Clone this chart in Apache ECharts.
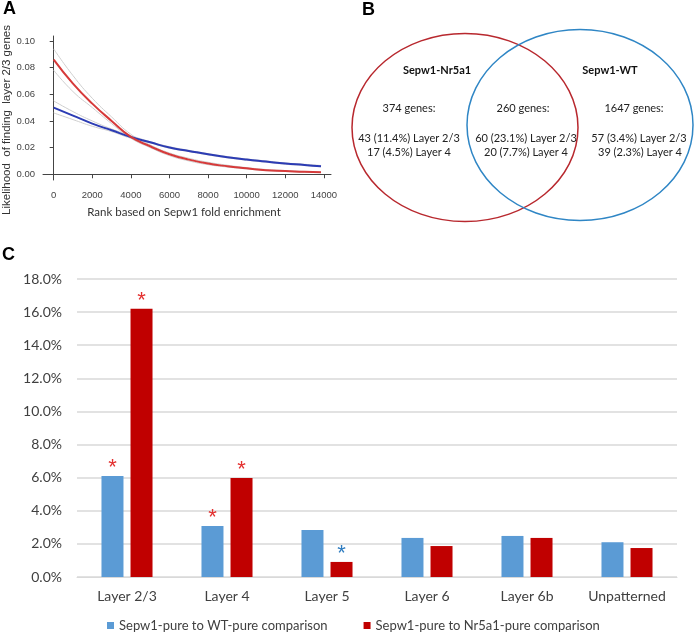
<!DOCTYPE html>
<html>
<head>
<meta charset="utf-8">
<script src="https://cdn.jsdelivr.net/npm/echarts@6/dist/echarts.min.js"></script>
<style>
  html, body { margin: 0; padding: 0; background: #fff; }
  #main { width: 700px; height: 636px; }
</style>
</head>
<body>
<div id="main"></div>
<script>
// Panel A: likelihood curves (rank, value)
const rankTicks = [0, 2000, 4000, 6000, 8000, 10000, 12000, 14000];
const probTicks = [0, 0.02, 0.04, 0.06, 0.08, 0.10];
const rankPts = [0, 1000, 2000, 3000, 4000, 5000, 6000, 7000, 8000, 9000, 10000, 11000, 12000, 13000, 13850];
const redFit = [0.086, 0.068, 0.053, 0.040, 0.028, 0.021, 0.015, 0.011, 0.008, 0.006, 0.0045, 0.003, 0.0025, 0.0018, 0.0015];
const redUpper = [0.094, 0.074, 0.057, 0.043, 0.030, 0.022, 0.016, 0.012, 0.009, 0.0068, 0.005, 0.0036, 0.0028, 0.0021, 0.0017];
const redLower = [0.078, 0.062, 0.050, 0.038, 0.027, 0.020, 0.014, 0.010, 0.0072, 0.0054, 0.004, 0.0028, 0.0022, 0.0015, 0.0013];
const blueFit = [0.050, 0.044, 0.038, 0.033, 0.028, 0.024, 0.020, 0.0175, 0.015, 0.0128, 0.011, 0.0095, 0.008, 0.007, 0.006];
const blueUpper = [0.055, 0.047, 0.040, 0.034, 0.029, 0.0245, 0.0207, 0.018, 0.0155, 0.0133, 0.0115, 0.010, 0.0085, 0.0075, 0.0066];
const blueLower = [0.046, 0.041, 0.036, 0.032, 0.027, 0.0235, 0.0195, 0.017, 0.0145, 0.0123, 0.0105, 0.009, 0.0075, 0.0065, 0.0056];

// Panel B: Venn counts (Nr5a1 only, shared, WT only)
const vennSets = ['Sepw1-Nr5a1', 'Sepw1-WT'];
const vennGenes = [374, 260, 1647];
const vennL23 = [43, 60, 57];
const vennL23Pct = ['11.4', '23.1', '3.4'];
const vennL4 = [17, 20, 39];
const vennL4Pct = ['4.5', '7.7', '2.3'];

// Panel C: bars (percent)
const layers = ['Layer 2/3', 'Layer 4', 'Layer 5', 'Layer 6', 'Layer 6b', 'Unpatterned'];
const wtName = 'Sepw1-pure to WT-pure comparison';
const nrName = 'Sepw1-pure to Nr5a1-pure comparison';
const wtPct = [6.1, 3.08, 2.84, 2.36, 2.48, 2.1];
const nrPct = [16.2, 5.98, 0.91, 1.87, 2.36, 1.75];
const wtStar = ['red', 'red', '', '', '', ''];
const nrStar = ['red', 'red', 'blue', '', '', ''];

const starColor = { red: '#e3302f', blue: '#2e7cc0' };
const calib = 'Lato, "Open Sans", sans-serif';
const arial = '"Liberation Sans", Arial, sans-serif';

const zip = (xs, ys) => xs.map((x, i) => [x, ys[i]]);
const withStars = (vals, stars) => vals.map((v, i) => stars[i] ? {
    value: v,
    label: { show: true, color: starColor[stars[i]] }
} : v);

const chart = echarts.init(document.getElementById('main'));

const bandLine = (name, data) => ({
    name, type: 'line', xAxisIndex: 0, yAxisIndex: 0, smooth: true,
    showSymbol: false, data, silent: true,
    lineStyle: { color: '#cfcfcf', width: 1 }, z: 1
});

const starLabel = {
    show: false, position: 'top', formatter: '*',
    fontSize: 22, fontFamily: arial, distance: -3
};

// venn text rows: [x centres], y, text builder
const vennRows = [
    { xs: [409, 523, 634], y: 108, text: i => vennGenes[i] + ' genes:' },
    { xs: [409, 526, 639], y: 138, text: i => vennL23[i] + ' (' + vennL23Pct[i] + '%) Layer 2/3' },
    { xs: [409, 526, 640], y: 152, text: i => vennL4[i] + ' (' + vennL4Pct[i] + '%) Layer 4' }
];

const option = {
    animation: false,
    grid: [
        { left: 43, top: 36, width: 288, height: 144 },
        { left: 77, top: 279, width: 600, height: 298 }
    ],
    xAxis: [
        {
            gridIndex: 0, type: 'value', min: -554, max: 14368,
            splitLine: { show: false },
            axisLine: { lineStyle: { color: '#444', width: 1 } },
            axisTick: { customValues: rankTicks, length: 4, lineStyle: { color: '#444' } },
            axisLabel: {
                customValues: rankTicks, color: '#444', fontSize: 9.5, fontFamily: arial, margin: 10,
                formatter: v => String(v)
            }
        },
        {
            gridIndex: 1, type: 'category', data: layers,
            axisLine: { lineStyle: { color: '#d9d9d9' } },
            axisTick: { show: false },
            axisLabel: { color: '#404040', fontSize: 14, fontFamily: calib, margin: 12, interval: 0 }
        }
    ],
    yAxis: [
        {
            gridIndex: 0, type: 'value', min: -0.0043, max: 0.1037,
            splitLine: { show: false },
            axisLine: { show: true, lineStyle: { color: '#444', width: 1 } },
            axisTick: { show: true, customValues: probTicks, length: 4, lineStyle: { color: '#444' } },
            axisLabel: {
                customValues: probTicks, color: '#444', fontSize: 9.5, fontFamily: arial, margin: 8,
                formatter: v => v.toFixed(2)
            }
        },
        {
            gridIndex: 1, type: 'value', min: 0, max: 18, interval: 2,
            splitLine: { lineStyle: { color: '#d9d9d9', width: 1.5 } },
            axisLine: { show: false },
            axisTick: { show: false },
            axisLabel: {
                color: '#404040', fontSize: 14, fontFamily: calib, margin: 15,
                formatter: v => v.toFixed(1) + '%'
            }
        }
    ],
    legend: {
        data: [wtName, nrName],
        left: 102, top: 614,
        icon: 'rect', itemWidth: 7, itemHeight: 7, itemGap: 36,
        textStyle: { color: '#404040', fontSize: 13, fontFamily: calib }
    },
    series: [
        bandLine('red upper', zip(rankPts, redUpper)),
        bandLine('red lower', zip(rankPts, redLower)),
        bandLine('blue upper', zip(rankPts, blueUpper)),
        bandLine('blue lower', zip(rankPts, blueLower)),
        {
            name: 'Nr5a1 fit', type: 'line', xAxisIndex: 0, yAxisIndex: 0, smooth: true,
            showSymbol: false, data: zip(rankPts, redFit),
            lineStyle: { color: '#d63a3a', width: 2 }, z: 3
        },
        {
            name: 'WT fit', type: 'line', xAxisIndex: 0, yAxisIndex: 0, smooth: true,
            showSymbol: false, data: zip(rankPts, blueFit),
            lineStyle: { color: '#2c3cb4', width: 2 }, z: 2
        },
        {
            name: wtName, type: 'bar', xAxisIndex: 1, yAxisIndex: 1,
            barWidth: 22, barGap: '32%',
            itemStyle: { color: '#5b9bd5' },
            label: starLabel,
            data: withStars(wtPct, wtStar)
        },
        {
            name: nrName, type: 'bar', xAxisIndex: 1, yAxisIndex: 1,
            barWidth: 22,
            itemStyle: { color: '#c00000' },
            label: starLabel,
            data: withStars(nrPct, nrStar)
        }
    ],
    graphic: [
        // panel letters
        { type: 'text', left: 3, top: 0, style: { text: 'A', font: 'bold 18px ' + arial, fill: '#000' } },
        { type: 'text', left: 362, top: 1, style: { text: 'B', font: 'bold 18px ' + arial, fill: '#000' } },
        { type: 'text', left: 2, top: 246, style: { text: 'C', font: 'bold 18px ' + arial, fill: '#000' } },
        // panel A axis titles
        {
            type: 'text', x: 7, y: 120, rotation: Math.PI / 2,
            style: { text: 'Likelihood  of finding  layer 2/3 genes', font: '11.5px ' + arial, fill: '#333', align: 'center', verticalAlign: 'middle' }
        },
        {
            type: 'text', x: 184, y: 212,
            style: { text: 'Rank based on Sepw1 fold enrichment', font: '11.5px ' + calib, fill: '#333', align: 'center', verticalAlign: 'middle' }
        },
        // panel B venn
        { type: 'ellipse', shape: { cx: 465, cy: 127.5, rx: 113, ry: 94 }, style: { fill: 'none', stroke: '#b8282e', lineWidth: 1.5 } },
        { type: 'ellipse', shape: { cx: 580, cy: 125, rx: 113, ry: 95.5 }, style: { fill: 'none', stroke: '#2f86c5', lineWidth: 1.5 } },
        ...[[437, vennSets[0]], [610, vennSets[1]]].map(([x, t]) => ({
            type: 'text', x, y: 70,
            style: { text: t, font: 'bold 11px ' + calib, fill: '#111', align: 'center', verticalAlign: 'middle' }
        })),
        ...vennRows.flatMap(row => row.xs.map((x, i) => ({
            type: 'text', x, y: row.y,
            style: { text: row.text(i), font: '11px ' + calib, fill: '#222', align: 'center', verticalAlign: 'middle' }
        })))
    ]
};

chart.setOption(option);
</script>
</body>
</html>
